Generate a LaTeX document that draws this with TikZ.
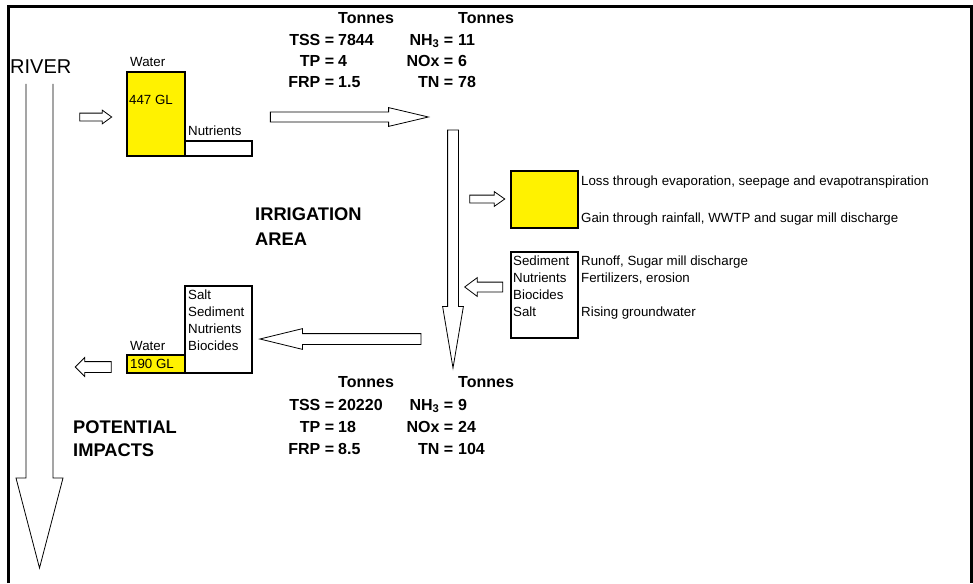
\documentclass[tikz,border=0pt]{standalone}
\usepackage{fontspec}
\setmainfont{Liberation Sans}
\usepackage{array}
\usetikzlibrary{shapes.arrows, positioning}
\newcolumntype{R}[1]{>{\raggedleft\arraybackslash}p{#1}}
\tikzset{
    box/.style={draw, rectangle, line width=2.5pt, inner sep=0pt, outer sep=0pt, anchor=north west},
    flow/.style={draw, single arrow, fill=white, line width=0.8pt, inner sep=0pt, outer sep=0pt, minimum width=0pt},
    lbl/.style={font=\fontsize{13.3}{17}\selectfont, inner sep=0pt, anchor=base west},
    heading/.style={font=\fontsize{18.3}{23.5}\selectfont\bfseries, inner sep=0pt, anchor=base west, align=left},
    loads/.style={font=\fontsize{16}{21.3}\selectfont\bfseries, inner sep=0pt, anchor=base west}
}

\begin{document}
\begin{tikzpicture}[x=1pt, y=-1pt]
    \useasboundingbox (0,0) rectangle (973,583);
    \draw [line width=3pt] (8.5,583) -- (8.5,7) -- (971.5,7) -- (971.5,583);

    % river
    \node (river) [lbl, font=\fontsize{20}{24}\selectfont] at (10,74) {RIVER};
    \draw [line width=0.8pt] (26,84) -- (26,478) -- (16,478) -- (39.5,568) -- (63,478) -- (53,478) -- (53,84);

    % water taken in
    \node (inflow) [flow, minimum height=32pt, inner ysep=3.5pt, single arrow head extend=3pt, single arrow tip angle=72] at (93,117) {};
    \node (water) [box, fill=yellow, minimum width=58pt, minimum height=84pt] at (127,72) {};
    \node (nutrients) [box, anchor=south west, minimum width=67pt, minimum height=15pt] at (water.south east) {};
    \node (waterlbl) [lbl] at (130,66.7) {Water};
    \node (volin) [lbl] at (129,104) {447 GL};
    \node (nutlbl) [lbl] at (188,135) {Nutrients};

    \node (loadsin) [loads] at (284,24) {\begin{tabular}[t]{@{}R{50pt}@{\hspace{4pt}}p{50pt}@{}R{65pt}@{\hspace{5pt}}l@{}}
        & Tonnes & & Tonnes\\
        TSS = & 7844 & NH\textsubscript{3} = & 11\\
        TP = & 4 & NOx = & 6\\
        FRP = & 1.5 & TN = & 78
    \end{tabular}};

    \node (supply) [flow, minimum height=158pt, inner ysep=4.5pt, single arrow head extend=4.5pt, single arrow tip angle=26.6] at (339,117) {};
    \node (channel) [flow, rotate=-90, minimum height=238pt, inner ysep=5pt, single arrow head extend=5pt, single arrow tip angle=19.2] at (453,233) {};

    \node (irrigation) [heading, font=\fontsize{18.3}{24.3}\selectfont\bfseries] at (255,245) {IRRIGATION\\AREA};

    % water balance
    \node (evapin) [flow, minimum height=35pt, inner ysep=3.5pt, single arrow head extend=3.5pt, single arrow tip angle=70] at (484.5,199) {};
    \node (balance) [box, fill=yellow, minimum width=67pt, minimum height=57pt] at (511,171) {};
    \node (loss) [lbl] at (581,185.7) {Loss through evaporation, seepage and evapotranspiration};
    \node (gain) [lbl] at (581,222.3) {Gain through rainfall, WWTP and sugar mill discharge};

    % inputs from the area
    \node (inputs) [box, minimum width=67pt, minimum height=86pt] at (511,252) {};
    \node (inputlist) [lbl, align=left] at (513,316) {Sediment\\Nutrients\\Biocides\\Salt};
    \node (sources) [lbl, align=left] at (581,316) {Runoff, Sugar mill discharge\\Fertilizers, erosion\\[17pt]Rising groundwater};
    \node (runin) [flow, rotate=180, minimum height=38pt, inner ysep=4.5pt, single arrow head extend=4.5pt, single arrow tip angle=73.7] at (487,287) {};

    % return to river
    \node (drain) [flow, rotate=180, minimum height=161pt, inner ysep=5pt, single arrow head extend=5pt, single arrow tip angle=27.4] at (351.5,339) {};
    \node (returns) [box, minimum width=67pt, minimum height=87pt] at (185,286) {};
    \node (waterout) [box, anchor=south east, fill=yellow, minimum width=58pt, minimum height=18pt] at (returns.south west) {};
    \node (returnlist) [lbl, align=left] at (188,350) {Salt\\Sediment\\Nutrients\\Biocides};
    \node (waterlbl2) [lbl] at (130,350) {Water};
    \node (volout) [lbl] at (130,368.3) {190 GL};
    \node (outflow) [flow, rotate=180, minimum height=36pt, inner ysep=5pt, single arrow head extend=4pt, single arrow tip angle=90] at (96,367) {};

    \node (loadsout) [loads, font=\fontsize{16}{22.4}\selectfont\bfseries] at (284,387.7) {\begin{tabular}[t]{@{}R{50pt}@{\hspace{4pt}}p{50pt}@{}R{65pt}@{\hspace{5pt}}l@{}}
        & Tonnes & & Tonnes\\
        TSS = & 20220 & NH\textsubscript{3} = & 9\\
        TP = & 18 & NOx = & 24\\
        FRP = & 8.5 & TN = & 104
    \end{tabular}};

    \node (impacts) [heading, font=\fontsize{18.3}{22.7}\selectfont\bfseries] at (73,456) {POTENTIAL\\IMPACTS};
\end{tikzpicture}
\end{document}
